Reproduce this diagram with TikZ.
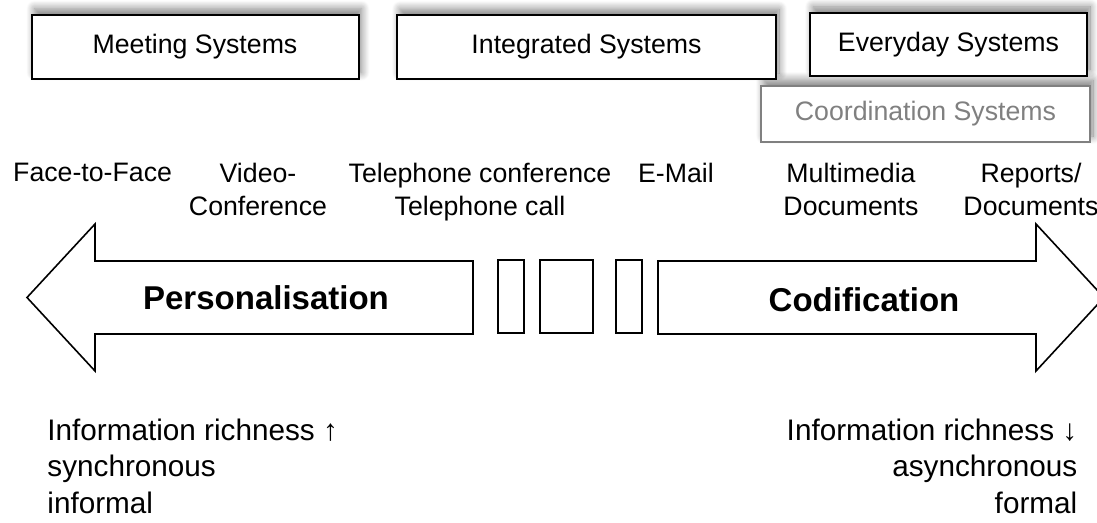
\documentclass[tikz,border=0pt]{standalone}
\usepackage{fontspec}
\setmainfont{Liberation Sans}
\usetikzlibrary{shadows.blur}
\definecolor{coordgray}{HTML}{808080}
\tikzset{
every picture/.style={
line width=1.5pt
},
sysbox/.style={draw=black, line width=2pt, fill=white, inner sep=0pt,
  minimum height=64pt, font=\fontsize{26.7}{32}\selectfont,
  blur shadow={shadow xshift=3pt, shadow yshift=6pt, shadow blur radius=8pt,
    shadow blur steps=12, shadow opacity=50}},
coordbox/.style={sysbox, draw=coordgray, text=coordgray},
medium/.style={font=\fontsize{26.7}{33}\selectfont, align=center, anchor=north, inner sep=0pt},
bigarrow/.style={draw, fill=white, line width=1.6pt, line join=miter},
strategy/.style={font=\bfseries\fontsize{33}{40}\selectfont, inner sep=0pt},
gapbox/.style={draw, line width=1.3pt},
trait/.style={font=\fontsize{29.7}{36.5}\selectfont, inner sep=0pt}
}

\begin{document}
\begin{tikzpicture}[x=1pt, y=-1pt]
\useasboundingbox (0,0) rectangle (1097,522);

% system classes (coord first, so its shadow stays behind)
\node[coordbox, minimum width=329pt, minimum height=56pt] (coord) at (925.5,114) {Coordination Systems};
\node[sysbox, minimum width=327pt] (meet) at (195,46.6) {Meeting Systems};
\node[sysbox, minimum width=379pt] (integ) at (586.5,47) {Integrated Systems};
\node[sysbox, minimum width=277pt, minimum height=63pt] (every) at (948.5,44.4) {Everyday Systems};

% media, rich -> lean
\foreach \x/\name/\txt in {92.6/f2f/Face-to-Face, 258/video/{Video-\\Conference}, 480/phone/{Telephone conference\\Telephone call}, 676/mail/E-Mail, 851/mmdoc/{Multimedia\\Documents}, 1031/report/{Reports/\\Documents}}{
  \node[medium] (\name) at (\x,162) {\txt};
}

% the two strategies
\draw[bigarrow] (473,261) -- (95,261) -- (95,224) -- (27,297.5) -- (95,371) -- (95,334) -- (473,334) -- cycle;
\draw[bigarrow] (658,261) -- (1036,261) -- (1036,224) -- (1104,297.5) -- (1036,371) -- (1036,334) -- (658,334) -- cycle;
\node[strategy] (pers) at (266,298) {Personalisation};
\node[strategy] (codif) at (864,300) {Codification};

\foreach \l/\r in {498/524, 540/593, 616/642}{
  \draw[gapbox] (\l,260) rectangle (\r,333);
}

% properties
\node[trait, anchor=north west, align=left] (rich) at (46.7,418) {Information richness ↑\\synchronous\\informal};
\node[trait, anchor=north east, align=right] (lean) at (1078,418) {Information richness ↓\\asynchronous\\formal};
\end{tikzpicture}
\end{document}
